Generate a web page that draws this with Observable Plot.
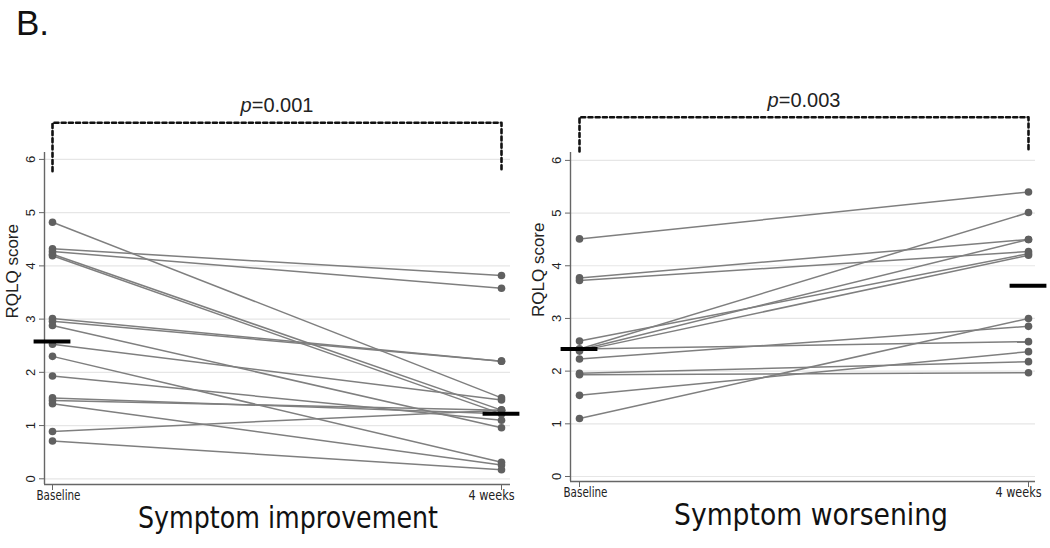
<!DOCTYPE html>
<html><head><meta charset="utf-8">
<script src="https://cdn.jsdelivr.net/npm/d3@7"></script>
<script src="https://cdn.jsdelivr.net/npm/@observablehq/plot@0.6"></script>
<style>
body{margin:0;background:#fff;}
#wrap{position:relative;width:1050px;height:548px;overflow:hidden;font-family:"Liberation Sans",Arial,sans-serif;background:#fff;}
#tag{position:absolute;left:16px;top:3px;font-size:35px;line-height:40px;color:#111;}
.panel{position:absolute;top:0;}
</style></head><body>
<div id="wrap"><div id="tag">B.</div><div id="p1" class="panel" style="left:0"></div><div id="p2" class="panel" style="left:525px"></div></div>
<script>
// ---- data ----
const timeLabels = ["Baseline", "4 weeks"];
const yTicks = [0, 1, 2, 3, 4, 5, 6];
const improveBaseline = [4.82, 4.32, 4.27, 4.22, 4.19, 3.01, 2.96, 2.88, 2.53, 2.30, 1.93, 1.52, 1.47, 1.41, 0.89, 0.71];
const improveWeek4    = [1.52, 3.82, 3.58, 1.29, 1.22, 2.21, 2.21, 0.96, 1.48, 0.31, 1.10, 1.22, 1.29, 0.26, 1.29, 0.17];
const improveCentre   = [2.58, 1.22];
const worsenBaseline  = [4.51, 3.77, 3.72, 2.57, 2.42, 2.40, 2.38, 2.42, 2.23, 1.96, 1.93, 1.54, 1.10];
const worsenWeek4     = [5.40, 4.50, 4.27, 4.23, 5.01, 4.50, 4.20, 2.56, 2.85, 2.18, 1.97, 2.37, 3.00];
const worsenCentre    = [2.42, 3.62];
const panelTitles = ["Symptom improvement", "Symptom worsening"];
const pValues = ["0.001", "0.003"];
const bracketTop = [6.69, 6.82];
const bracketFoot = [5.78, 6.17];
const pLabelY = [7.01, 7.14];
const yLabel = "RQLQ score";

// ---- style ----
const NARROW = '"Liberation Sans Narrow","DejaVu Sans Condensed","Liberation Sans",Arial,sans-serif';
const REG = '"Liberation Sans",Arial,sans-serif';
const barHalf = 0.041;

function condense(chart, str, len) {
  chart.querySelectorAll("text").forEach(t => {
    if (t.textContent === str) {
      t.setAttribute("textLength", len);
      t.setAttribute("lengthAdjust", "spacingAndGlyphs");
    }
  });
}

function panel(el, cfg) {
  const pairs = cfg.base.map((b, i) => ({b, w: cfg.week[i]}));
  const pts = cfg.base.map(v => ({t: 0, v})).concat(cfg.week.map(v => ({t: 1, v})));
  const centres = cfg.centre.map((v, t) => ({t, v}));
  const bracket = [
    {x: 0, y: cfg.foot}, {x: 0, y: cfg.top}, {x: 1, y: cfg.top}, {x: 1, y: cfg.foot}
  ];
  const chart = Plot.plot({
    width: 525, height: 548,
    marginLeft: cfg.ml, marginRight: 15, marginTop: 152, marginBottom: cfg.mb,
    x: {domain: cfg.xd},
    y: {domain: cfg.yd},
    style: {fontFamily: REG, background: "transparent", overflow: "visible", color: "#222"},
    marks: [
      Plot.gridY(yTicks, {stroke: "#e6e6e6", strokeOpacity: 1, strokeWidth: 1.2}),
      Plot.ruleX([cfg.xd[0]], {stroke: "#666", strokeWidth: 1.4}),
      Plot.ruleY([cfg.yd[0]], {stroke: "#666", strokeWidth: 1.4}),
      Plot.axisY(yTicks, {tickRotate: -90, tickSize: 5, tickPadding: 5, fontSize: 13, stroke: "#666", fill: "#222", label: null, tickFormat: d => String(d)}),
      Plot.axisX([0, 1], {tickSize: 6, stroke: "#666", tickFormat: () => "", label: null}),
      Plot.link(pairs, {x1: () => 0, y1: "b", x2: () => 1, y2: "w", stroke: "#7f7f7f", strokeWidth: 1.5}),
      Plot.dot(pts, {x: "t", y: "v", r: 3.8, fill: "#606060", stroke: "none"}),
      Plot.ruleY(centres, {y: "v", x1: d => d.t - barHalf, x2: d => d.t + barHalf, stroke: "#000", strokeWidth: 4}),
      Plot.line(bracket, {x: "x", y: "y", stroke: "#111", strokeWidth: 2.6, strokeDasharray: "4,3.2"}),
      Plot.text(["p=" + cfg.p], {x: () => 0.5, y: () => cfg.py, text: d => d, fontSize: 20, fill: "#222"}),
      Plot.text([yLabel], {frameAnchor: "left", rotate: -90, dx: -32, fontSize: 17, fill: "#222"}),
      Plot.text([timeLabels[0]], {x: () => 0, frameAnchor: "bottom", dx: 6, dy: 15, fontSize: 14, fontFamily: NARROW, fill: "#222"}),
      Plot.text([timeLabels[1]], {x: () => 1, frameAnchor: "bottom", dx: -10, dy: 15, fontSize: 14, fontFamily: NARROW, fill: "#222"}),
      Plot.text([cfg.title], {x: () => 0.5, frameAnchor: "bottom", dx: cfg.tdx, dy: 43, fontSize: 30, fontFamily: NARROW, fill: "#111"})
    ]
  });
  chart.querySelectorAll("text").forEach(t => {
    if (t.textContent === "") { t.remove(); return; }
    if (t.textContent.startsWith("p=")) {
      const rest = t.textContent.slice(1);
      t.textContent = "";
      const sp = document.createElementNS("http://www.w3.org/2000/svg", "tspan");
      sp.setAttribute("font-style", "italic");
      sp.textContent = "p";
      t.appendChild(sp);
      t.appendChild(document.createTextNode(rest));
    }
  });
  condense(chart, cfg.title, cfg.tlen);
  condense(chart, timeLabels[0], 44);
  condense(chart, timeLabels[1], 46);
  el.appendChild(chart);
}

panel(document.getElementById("p1"), {
  base: improveBaseline, week: improveWeek4, centre: improveCentre,
  ml: 44, mb: 64, xd: [-8 / 449, 1 + 9 / 449], yd: [-0.107, 6.13],
  top: bracketTop[0], foot: bracketFoot[0], p: pValues[0], py: pLabelY[0],
  title: panelTitles[0], tdx: 11, tlen: 300
});
panel(document.getElementById("p2"), {
  base: worsenBaseline, week: worsenWeek4, centre: worsenCentre,
  ml: 45, mb: 67, xd: [-9 / 449, 1 + 7 / 449], yd: [-0.095, 6.15],
  top: bracketTop[1], foot: bracketFoot[1], p: pValues[1], py: pLabelY[1],
  title: panelTitles[1], tdx: 7, tlen: 274
});
</script>
</body></html>
